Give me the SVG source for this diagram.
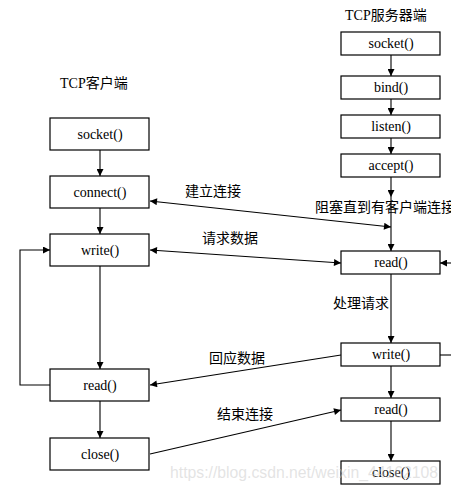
<svg xmlns="http://www.w3.org/2000/svg" width="451" height="489" viewBox="0 0 451 489">
<defs>
<marker id="ah" viewBox="0 0 10 10" refX="10" refY="5" markerWidth="8" markerHeight="7" markerUnits="userSpaceOnUse" orient="auto-start-reverse">
<path d="M0,0 L10,5 L0,10 Z" fill="#000"/>
</marker>
</defs>
<style>
.box{fill:#fff;stroke:#000;stroke-width:1.2}
.fn{font-family:"Liberation Serif","Times New Roman",serif;font-size:14px;fill:#000;text-anchor:middle}
.lb{font-family:"Liberation Serif","Noto Sans CJK SC",serif;font-size:14px;fill:#000}
.ln{stroke:#000;stroke-width:1.1;fill:none}
.wm{font-family:"Liberation Sans",Arial,sans-serif;font-size:16px;fill:#c8c8c8;fill-opacity:0.5}
</style>
<rect width="451" height="489" fill="#fff"/>
<text class="lb" x="345" y="20">TCP服务器端</text>
<text class="lb" x="60" y="88">TCP客户端</text>
<text class="lb" x="185" y="196">建立连接</text>
<text class="lb" x="315" y="212">阻塞直到有客户端连接</text>
<text class="lb" x="202" y="243">请求数据</text>
<text class="lb" x="333" y="308">处理请求</text>
<text class="lb" x="209" y="363">回应数据</text>
<text class="lb" x="217" y="419">结束连接</text>
<g id="connectors">
<path class="ln" d="M100,150 V176" marker-end="url(#ah)"/>
<path class="ln" d="M100,208 V234" marker-end="url(#ah)"/>
<path class="ln" d="M100,266 V369" marker-end="url(#ah)"/>
<path class="ln" d="M100,401 V438" marker-end="url(#ah)"/>
<path class="ln" d="M50,385 H20 V250 H50" marker-end="url(#ah)"/>
<path class="ln" d="M150,201 L391,227" marker-start="url(#ah)" marker-end="url(#ah)"/>
<path class="ln" d="M150,250 L341,263" marker-start="url(#ah)" marker-end="url(#ah)"/>
<path class="ln" d="M341,355 L150,385" marker-end="url(#ah)"/>
<path class="ln" d="M150,454 L341,410" marker-end="url(#ah)"/>
<path class="ln" d="M391,55 V76" marker-end="url(#ah)"/>
<path class="ln" d="M391,99 V115" marker-end="url(#ah)"/>
<path class="ln" d="M391,138 V154" marker-end="url(#ah)"/>
<path class="ln" d="M391,177 V197" marker-end="url(#ah)"/>
<path class="ln" d="M391,197 V251" marker-end="url(#ah)"/>
<path class="ln" d="M391,274 V343" marker-end="url(#ah)"/>
<path class="ln" d="M391,366 V398" marker-end="url(#ah)"/>
<path class="ln" d="M391,421 V461" marker-end="url(#ah)"/>
<path class="ln" d="M440,355 H452"/>
<path class="ln" d="M452,263 H440" marker-end="url(#ah)"/>
</g>
<g id="c_socket"><rect class="box" x="50" y="118" width="99" height="32"/><text class="fn" x="100" y="139">socket()</text></g>
<g id="c_connect"><rect class="box" x="50" y="176" width="99" height="32"/><text class="fn" x="100" y="197">connect()</text></g>
<g id="c_write"><rect class="box" x="50" y="234" width="99" height="32"/><text class="fn" x="100" y="255">write()</text></g>
<g id="c_read"><rect class="box" x="50" y="369" width="99" height="32"/><text class="fn" x="100" y="390">read()</text></g>
<g id="c_close"><rect class="box" x="50" y="438" width="99" height="32"/><text class="fn" x="100" y="459">close()</text></g>
<g id="s_socket"><rect class="box" x="341" y="32" width="99" height="23"/><text class="fn" x="391" y="48">socket()</text></g>
<g id="s_bind"><rect class="box" x="341" y="76" width="99" height="23"/><text class="fn" x="391" y="92">bind()</text></g>
<g id="s_listen"><rect class="box" x="341" y="115" width="99" height="23"/><text class="fn" x="391" y="131">listen()</text></g>
<g id="s_accept"><rect class="box" x="341" y="154" width="99" height="23"/><text class="fn" x="391" y="170">accept()</text></g>
<g id="s_read"><rect class="box" x="341" y="251" width="99" height="23"/><text class="fn" x="391" y="267">read()</text></g>
<g id="s_write"><rect class="box" x="341" y="343" width="99" height="23"/><text class="fn" x="391" y="359">write()</text></g>
<g id="s_read2"><rect class="box" x="341" y="398" width="99" height="23"/><text class="fn" x="391" y="414">read()</text></g>
<g id="s_close"><rect class="box" x="341" y="461" width="99" height="23"/><text class="fn" x="391" y="477">close()</text></g>
<text class="wm" x="170" y="478" textLength="268" lengthAdjust="spacingAndGlyphs">https://blog.csdn.net/weixin_44162108</text>
</svg>
